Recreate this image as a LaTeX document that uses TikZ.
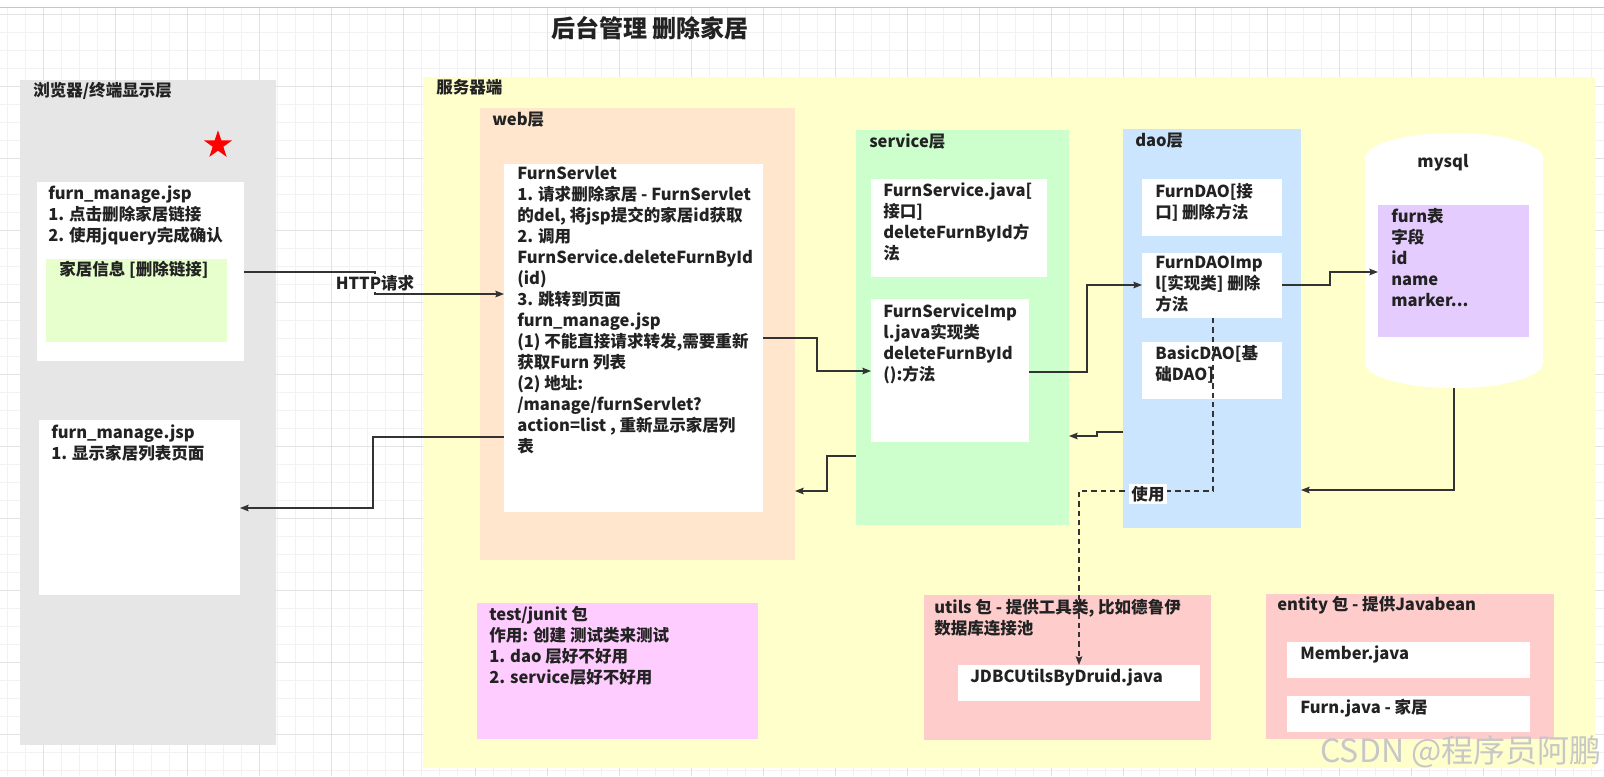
\documentclass[tikz,border=0pt]{standalone}
\usepackage{fontspec}
\setmainfont{Noto Sans CJK SC}
\usetikzlibrary{arrows.meta,positioning,fit,shapes.geometric}

\definecolor{gridminor}{HTML}{F2F2F2}
\definecolor{gridmajor}{HTML}{E2E2E2}
\definecolor{browsergray}{HTML}{E6E6E6}
\definecolor{serveryellow}{HTML}{FFFFCC}
\definecolor{webpeach}{HTML}{FFE6CC}
\definecolor{servicegreen}{HTML}{CCFFCC}
\definecolor{daoblue}{HTML}{CCE5FF}
\definecolor{linkgreen}{HTML}{E6FFCC}
\definecolor{tablepurple}{HTML}{E5CCFF}
\definecolor{testpink}{HTML}{FFCCFF}
\definecolor{pkgpink}{HTML}{FFCCCC}
\definecolor{ink}{HTML}{222222}
\definecolor{wire}{HTML}{333333}

\begin{document}
\begin{tikzpicture}[x=0.75pt, y=-0.75pt, every node/.style={font=\fontsize{12.4}{15.75}\selectfont\bfseries, text=ink}, panel/.style={inner sep=0pt, outer sep=0pt}, card/.style={fill=white, inner sep=0pt, outer sep=0pt}, txt/.style={anchor=north west, align=left, inner sep=0pt, execute at begin node=\strut}, arrow/.style={-{Stealth[length=6.5pt, width=5pt, inset=1pt]}, draw=wire, line width=0.9pt}]
\path[use as bounding box, fill=white] (0,0) rectangle (1604,776);
% canvas grid
\foreach \i in {0,...,88} \draw[gridminor, line width=0.75pt] (7.7+18*\i,8) -- (7.7+18*\i,776);
\foreach \i in {0,...,42} \draw[gridminor, line width=0.75pt] (0,14+18*\i) -- (1604,14+18*\i);
\foreach \i in {0,...,21} \draw[gridmajor, line width=0.75pt] (43.7+72*\i,8) -- (43.7+72*\i,776);
\foreach \i in {0,...,10} \draw[gridmajor, line width=0.75pt] (0,14+72*\i) -- (1604,14+72*\i);
\draw[gray!45, line width=0.75pt] (0,7) -- (1604,7);

\node[font=\fontsize{18}{22}\selectfont\bfseries] (title) at (650,28) {后台管理 删除家居};

% layers
\node[panel, fill=browsergray, fit={(20,80) (276,745)}] (browser) {};
\node[panel, fill=serveryellow, fit={(423,77) (1595,768)}] (server) {};
\node[panel, fill=webpeach, fit={(480,108) (795,560)}] (web) {};
\node[panel, fill=servicegreen, fit={(856,130) (1069,525)}] (service) {};
\node[panel, fill=daoblue, fit={(1123,129) (1301,528)}] (dao) {};
\node[txt] (browserlbl) at (33,82) {浏览器/终端显示层};
\node[txt] (serverlbl) at (436,79) {服务器端};
\node[txt] (weblbl) at (492,111) {web层};
\node[txt] (servicelbl) at (869,133) {service层};
\node[txt] (daolbl) at (1135,132) {dao层};

% browser side
\node[star, star points=5, star point ratio=2.6, fill=red, inner sep=0pt, minimum size=22pt] (star) at (218,145) {};
\node[card, fit={(37,182) (244,361)}] (jsp1) {};
\node[panel, fill=linkgreen, fit={(46,259) (227,342)}] (link) {};
\node[txt] (jsp1txt) at (48,185) {furn\_manage.jsp\\1. 点击删除家居链接\\2. 使用jquery完成确认};
\node[txt] (linktxt) at (59,261) {家居信息 [删除链接]};
\node[card, fit={(39,420) (240,595)}] (jsp2) {};
\node[txt] (jsp2txt) at (51,424) {furn\_manage.jsp\\1. 显示家居列表页面};

% web / service / dao
\node[card, fit={(504,164) (763,512)}] (servlet) {};
\node[txt] (servlettxt) at (517,166) {FurnServlet\\1. 请求删除家居 - FurnServlet\\的del, 将jsp提交的家居id获取\\2. 调用\\FurnService.deleteFurnById\\(id)\\3. 跳转到页面\\furn\_manage.jsp\\(1) 不能直接请求转发,需要重新\\获取Furn 列表\\(2) 地址:\\/manage/furnServlet?\\action=list , 重新显示家居列\\表};
\node[card, fit={(871,179) (1047,277)}] (svc) {};
\node[txt] (svctxt) at (883,182) {FurnService.java[\\接口]\\deleteFurnById方\\法};
\node[card, fit={(871,299) (1029,442)}] (impl) {};
\node[txt] (impltxt) at (883,303) {FurnServiceImp\\l.java实现类\\deleteFurnById\\():方法};
\node[card, fit={(1142,179) (1282,236)}] (daoif) {};
\node[txt] (daoiftxt) at (1155,183) {FurnDAO[接\\口] 删除方法};
\node[card, fit={(1142,253) (1282,318)}] (daoimpl) {};
\node[txt] (daoimpltxt) at (1155,256) {FurnDAOImp\\l[实现类] 删除\\方法};
\node[card, fit={(1142,342) (1282,399)}] (basic) {};
\node[txt] (basictxt) at (1155,345) {BasicDAO[基\\础DAO]};

% mysql
\fill[white] (1365,158) rectangle (1543,363);
\fill[white] (1454,158) ellipse [x radius=66.75pt, y radius=18.75pt];
\fill[white] (1454,363) ellipse [x radius=66.75pt, y radius=18.75pt];
\coordinate (dbbot) at (1454,388);
\node (dblbl) at (1443,163) {mysql};
\node[panel, fill=tablepurple, fit={(1378,205) (1529,337)}] (tbl) {};
\node[txt] (tbltxt) at (1391,208) {furn表\\字段\\id\\name\\marker...};

% packages
\node[panel, fill=testpink, fit={(477,603) (758,739)}] (test) {};
\node[txt] (testtxt) at (489,606) {test/junit 包\\作用: 创建 测试类来测试\\1. dao 层好不好用\\2. service层好不好用};
\node[panel, fill=pkgpink, fit={(924,595) (1211,740)}] (utils) {};
\node[txt] (utilstxt) at (934,599) {utils 包 - 提供工具类, 比如德鲁伊\\数据库连接池};
\node[card, fit={(958,665) (1200,701)}] (jdbc) {};
\node[txt] (jdbctxt) at (970,668) {JDBCUtilsByDruid.java};
\node[panel, fill=pkgpink, fit={(1266,594) (1554,739)}] (entity) {};
\node[txt] (entitytxt) at (1277,596) {entity 包 - 提供Javabean};
\node[card, fit={(1287,642) (1530,678)}] (member) {};
\node[txt] (membertxt) at (1300,645) {Member.java};
\node[card, fit={(1287,696) (1530,732)}] (furn) {};
\node[txt] (furntxt) at (1300,699) {Furn.java - 家居};

% connectors
\coordinate (httpmid) at (375,283);
\coordinate (usemid) at (1148,491);
\draw[arrow] (jsp1.east |- 0,272) -| (httpmid) |- (servlet.west |- 0,294);
\draw[arrow] (servlet.east |- 0,338) -| (817,355) |- (impl.west |- 0,371);
\draw[arrow] (impl.east |- 0,372) -| (1087,330) |- (daoimpl.west |- 0,285);
\draw[arrow] (daoimpl.east |- 0,285) -| (1330,280) |- (tbl.west |- 0,272);
\draw[arrow] (dbbot) |- (dao.east |- 0,490);
\draw[arrow] (dao.west |- 0,432) -| (1097,434) |- (service.east |- 0,436);
\draw[arrow] (service.west |- 0,456) -| (827,470) |- (web.east |- 0,491);
\draw[arrow] (servlet.west |- 0,437) -| (373,470) |- (jsp2.east |- 0,508);
\draw[arrow, dash pattern=on 4pt off 3pt] (daoimpl.south -| 1213,0) |- (usemid) -| (jdbc.north -| 1079,0);
\node[fill=white, inner sep=1pt] (http) at (httpmid) {HTTP请求};
\node[fill=white, inner sep=1.5pt] (uselbl) at (1148,494) {使用};

\node[font=\fontsize{24}{28}\selectfont, text=black!22] (mark) at (1461,752) {CSDN @程序员阿鹏};
\end{tikzpicture}
\end{document}
